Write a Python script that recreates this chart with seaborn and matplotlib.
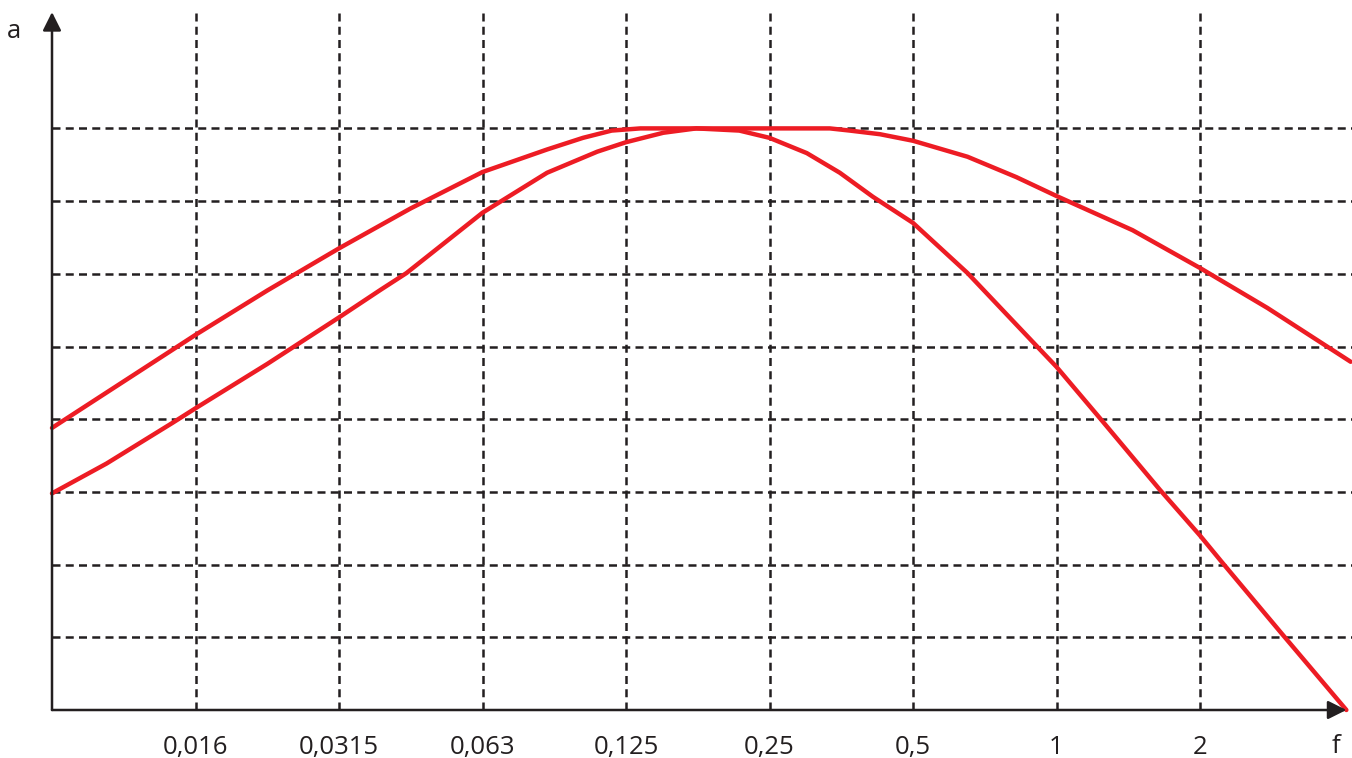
import pandas as pd
import matplotlib.pyplot as plt
import seaborn as sns

# frequency bands (equal steps on the axis), labels as printed
f_labels = ['0,016', '0,0315', '0,063', '0,125', '0,25', '0,5', '1', '2']
f_pos = [1, 2, 3, 4, 5, 6, 7, 8]
a_grid = [1, 2, 3, 4, 5, 6, 7, 8]

# outer (wide) curve in grid units
outer_x = [0.0, 0.5, 1.0, 1.5, 2.0, 2.5, 3.0, 3.45, 3.7, 3.9, 4.1, 5.0, 5.42,
           5.56, 5.77, 6.0, 6.38, 6.72, 7.0, 7.53, 8.0, 8.47, 9.05]
outer_y = [3.88, 4.52, 5.16, 5.77, 6.35, 6.90, 7.40, 7.71, 7.87, 7.97, 8.0, 8.0, 8.0,
           7.97, 7.92, 7.83, 7.61, 7.33, 7.07, 6.60, 6.08, 5.53, 4.79]

# inner (narrow) curve
inner_x = [0.0, 0.38, 0.84, 1.0, 1.5, 2.0, 2.29, 2.47, 2.70, 3.0, 3.45, 3.80, 4.0,
           4.26, 4.49, 4.79, 5.0, 5.26, 5.49, 5.72, 6.0, 6.38, 6.86, 7.0, 7.30,
           7.72, 8.0, 8.15, 8.57, 9.02]
inner_y = [2.98, 3.39, 3.95, 4.15, 4.76, 5.40, 5.78, 6.01, 6.37, 6.84, 7.39, 7.68, 7.81,
           7.94, 8.0, 7.97, 7.87, 7.66, 7.39, 7.06, 6.70, 6.01, 5.01, 4.72, 4.02,
           3.03, 2.40, 2.04, 1.05, 0.0]

outer = pd.DataFrame({'f': outer_x, 'a': outer_y})
inner = pd.DataFrame({'f': inner_x, 'a': inner_y})

sns.set_style('white')
plt.rcParams['font.family'] = ['Open Sans', 'DejaVu Sans']

fig = plt.figure(figsize=(13.52, 7.58), dpi=100)
ax = fig.add_axes([52 / 1352, 48 / 758, 1300 / 1352, 698 / 758])
ax.set_xlim(0, 1300 / 143.5)
ax.set_ylim(0, 698 / 72.7)

red = '#ed1c24'
ink = '#231f20'
grid_kw = dict(color=ink, lw=1.8, ls=(0, (3.2, 2.1)), zorder=1)
for x in f_pos:
    ax.axvline(x, **grid_kw)
for y in a_grid:
    ax.axhline(y, **grid_kw)

for df in (outer, inner):
    sns.lineplot(data=df, x='f', y='a', color=red, lw=3.2, estimator=None,
                 sort=False, ax=ax, zorder=3, clip_on=False,
                 solid_joinstyle='round', solid_capstyle='round')

for s in ax.spines.values():
    s.set_visible(False)

# axes with arrows
arrow = dict(arrowstyle='-|>', color=ink, lw=1.8, mutation_scale=28,
             shrinkA=0, shrinkB=0)
ax.annotate('', xy=(9.02, 0), xytext=(0, 0), arrowprops=arrow,
            annotation_clip=False, zorder=4)
ax.annotate('', xy=(0, 9.6), xytext=(0, 0), arrowprops=arrow,
            annotation_clip=False, zorder=4)

ax.set_xticks(f_pos)
ax.set_xticklabels(f_labels, fontsize=18.5, color=ink)
ax.set_yticks([])
ax.tick_params(axis='x', length=0, pad=18)
ax.set_xlabel('')
ax.set_ylabel('')

ax.text(-38 / 143.5, 9.33, 'a', fontsize=18.5, color=ink, ha='center', va='center')
ax.text(1284 / 143.5, -0.5, 'f', fontsize=18.5, color=ink, ha='center', va='center')

fig.savefig('out.png', dpi=100)
